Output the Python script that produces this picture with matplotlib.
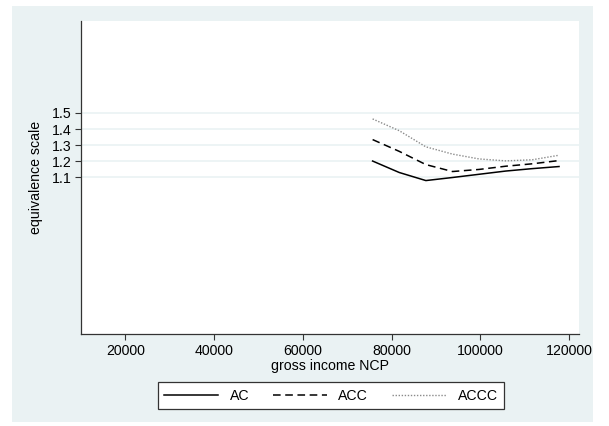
import matplotlib
matplotlib.use("Agg")
import matplotlib.pyplot as plt
from matplotlib.patches import Rectangle

plt.rcParams['font.family'] = ['Liberation Sans', 'DejaVu Sans']

# income points (gross income NCP)
income = [75700, 81700, 87700, 93700, 99700, 105700, 111700, 117700]
# equivalence scales
ac = [1.202, 1.131, 1.081, 1.100, 1.120, 1.140, 1.155, 1.168]
acc = [1.335, 1.262, 1.180, 1.137, 1.150, 1.170, 1.185, 1.205]
accc = [1.463, 1.390, 1.290, 1.245, 1.215, 1.203, 1.210, 1.238]

xticks = [20000, 40000, 60000, 80000, 100000, 120000]
yticks = [1.1, 1.2, 1.3, 1.4, 1.5]

bg = '#EAF2F3'
fs = 10.2

fig = plt.figure(figsize=(6.09, 4.26), dpi=100)
fig.patches.append(Rectangle((12/609, 1-422/426), (593-12)/609, (422-6)/426,
                             transform=fig.transFigure, facecolor=bg,
                             edgecolor='none', zorder=-10))

ax = fig.add_axes([81/609, 1-334/426, (579-81)/609, (334-21)/426])
ax.set_facecolor('white')

for y in yticks:
    ax.axhline(y, color=bg, lw=1.2, zorder=1)

ax.plot(income, ac, color='black', lw=1.1, label='AC', zorder=3)
ax.plot(income, acc, color='black', lw=1.1, ls=(0, (5, 3)), label='ACC', zorder=3)
ax.plot(income, accc, color='#8a8a8a', lw=1.0, ls=(0, (1, 1.2)), label='ACCC', zorder=3)

ax.set_xlim(10000, 122200)
ax.set_ylim(0.13, 2.07)
ax.set_xticks(xticks)
ax.set_xticklabels([str(v) for v in xticks])
ax.set_yticks(yticks)
ax.set_yticklabels(['%.1f' % v for v in yticks])
ax.tick_params(labelsize=fs, length=4, width=0.8, color='#333333', pad=3)

for s in ['top', 'right']:
    ax.spines[s].set_visible(False)
for s in ['left', 'bottom']:
    ax.spines[s].set_color('#333333')
    ax.spines[s].set_linewidth(0.9)

ax.set_xlabel('gross income NCP', fontsize=fs, labelpad=1)
ax.set_ylabel('equivalence scale', fontsize=fs, labelpad=6)

leg = fig.legend(loc='center', bbox_to_anchor=(331/609, 1-395.5/426), ncol=3,
                 fontsize=fs, frameon=True, fancybox=False, framealpha=1,
                 handlelength=3.8, handletextpad=0.8, columnspacing=1.7,
                 borderpad=0.45)
leg.get_frame().set_edgecolor('#333333')
leg.get_frame().set_linewidth(0.9)
leg.get_frame().set_facecolor('white')

plt.savefig('out.png', dpi=100, facecolor='white')
